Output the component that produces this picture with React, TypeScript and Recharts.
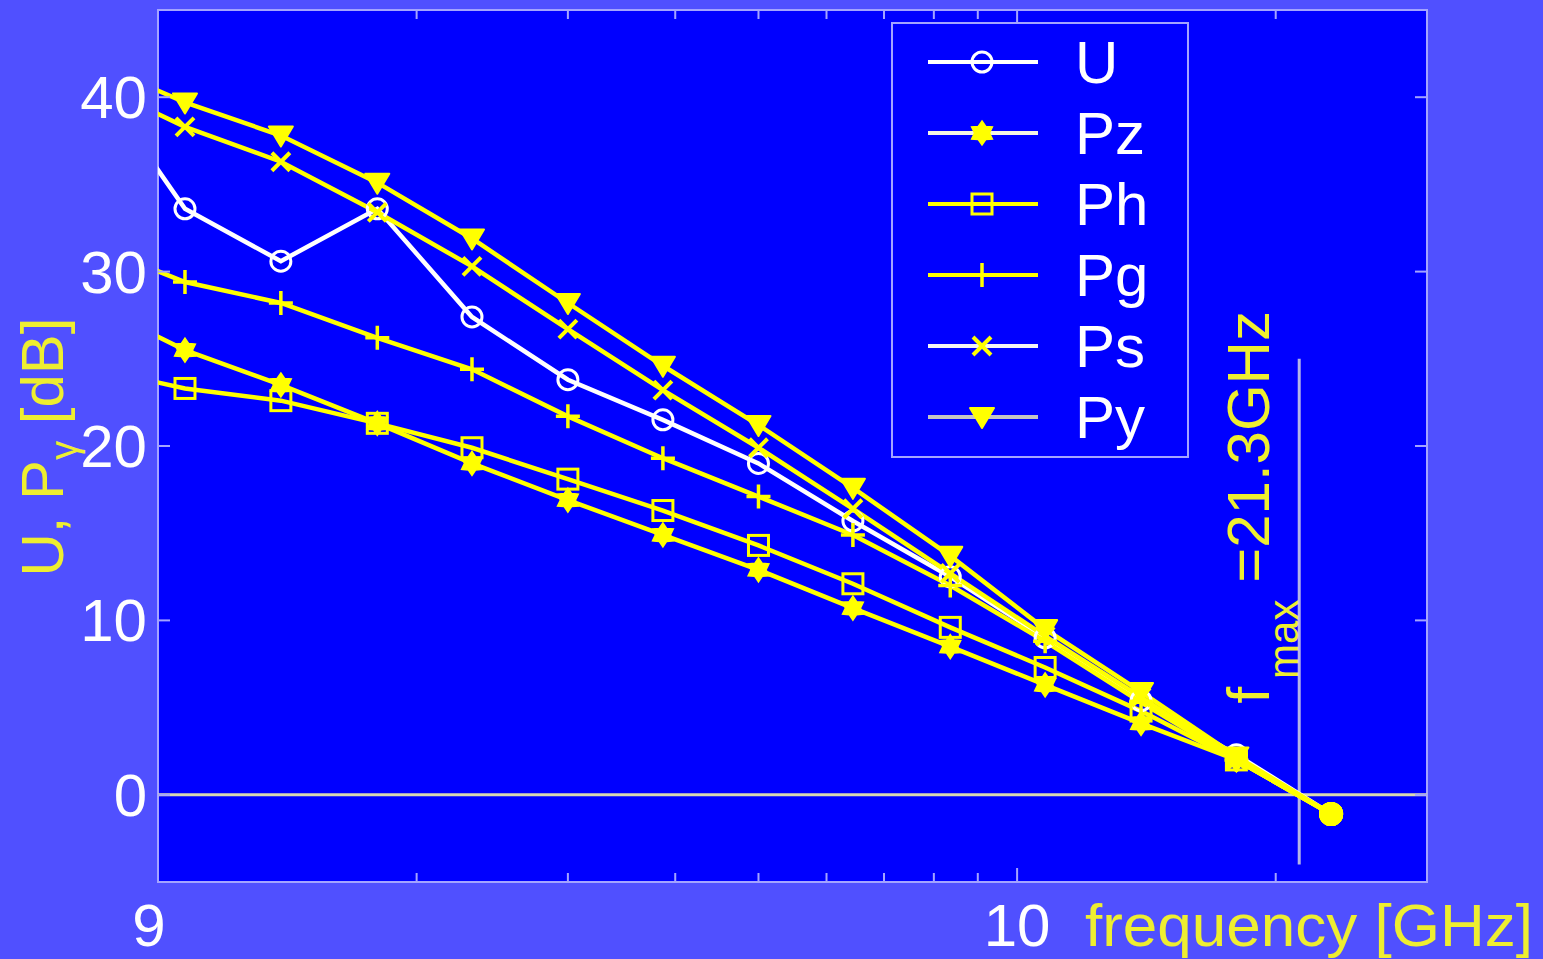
import React from 'react';
import { LineChart, Line, XAxis, YAxis, ReferenceLine, Legend } from 'recharts';

// ---------- data ----------
const frequencyHz = [0.832e9, 1.075e9, 1.39e9, 1.8e9, 2.32e9, 3.0e9, 3.87e9, 5.0e9, 6.44e9, 8.36e9, 10.78e9, 13.94e9, 18.0e9, 23.2e9];
const seriesU = [41.5, 33.6, 30.6, 33.6, 27.4, 23.8, 21.5, 19.0, 15.7, 12.5, 9.0, 5.4, 2.3, -1.1];
const seriesPz = [28.2, 25.5, 23.5, 21.3, 19.0, 16.9, 14.9, 12.9, 10.7, 8.5, 6.3, 4.1, 2.0, -1.1];
const seriesPh = [24.5, 23.3, 22.6, 21.3, 19.9, 18.1, 16.3, 14.3, 12.1, 9.6, 7.3, 4.8, 2.0, -1.1];
const seriesPg = [31.6, 29.4, 28.2, 26.2, 24.4, 21.7, 19.3, 17.1, 14.9, 12.0, 8.8, 5.3, 2.0, -1.1];
const seriesPs = [40.9, 38.3, 36.3, 33.4, 30.3, 26.7, 23.2, 19.9, 16.4, 12.7, 9.1, 5.6, 2.0, -1.1];
const seriesPy = [42.1, 39.7, 37.8, 35.1, 31.9, 28.2, 24.6, 21.2, 17.6, 13.7, 9.5, 5.9, 2.2, -1.1];

const xTicks = [1e9, 2e9, 3e9, 4e9, 5e9, 6e9, 7e9, 8e9, 9e9, 1e10, 2e10];
const xTickLabels = ['9', '', '', '', '', '', '', '', '', '10', ''];
const yTicks = [0, 10, 20, 30, 40];
const xDomain = [1e9, 3e10];
const yDomain = [-5, 45];
const fmaxHz = 21.3e9;
const fmaxSpan = [-4, 25];
const fmaxText = '=21.3GHz';
const xAxisTitle = 'frequency [GHz]';

const data = frequencyHz.map((f, i) => ({
  f,
  U: seriesU[i],
  Pz: seriesPz[i],
  Ph: seriesPh[i],
  Pg: seriesPg[i],
  Ps: seriesPs[i],
  Py: seriesPy[i],
}));

// ---------- style ----------
const W = 1543;
const H = 959;
const PLOT_L = 158;
const PLOT_T = 10;
const PLOT_R = 1427;
const PLOT_B = 882;
const PLOT_W = PLOT_R - PLOT_L;
const PLOT_H = PLOT_B - PLOT_T;
const YAXIS_W = 60;
const XAXIS_H = 60;

const PAGE_BG = '#5050FF';
const PLOT_BG = '#0000FF';
const FRAME = '#A4A4FF';
const YELLOW = '#FFFF00';
const TEXT_YELLOW = '#EEEE30';
const WHITE = '#FFFFFF';
const FONT = '"Liberation Sans", Arial, Helvetica, sans-serif';
const FS = 60;

type Series = { key: string; color: string; marker: string; legendLine: string; legendMarker: string };
const SERIES: Series[] = [
  { key: 'U', color: WHITE, marker: 'circle', legendLine: WHITE, legendMarker: WHITE },
  { key: 'Pz', color: YELLOW, marker: 'hexagram', legendLine: '#F4F4E4', legendMarker: YELLOW },
  { key: 'Ph', color: YELLOW, marker: 'square', legendLine: YELLOW, legendMarker: YELLOW },
  { key: 'Pg', color: YELLOW, marker: 'plus', legendLine: YELLOW, legendMarker: YELLOW },
  { key: 'Ps', color: YELLOW, marker: 'x', legendLine: '#F4F4F4', legendMarker: YELLOW },
  { key: 'Py', color: YELLOW, marker: 'triDown', legendLine: '#C4C4C4', legendMarker: YELLOW },
];

function markerShape(kind: string, cx: number, cy: number, color: string) {
  switch (kind) {
    case 'circle':
      return <circle cx={cx} cy={cy} r={10} fill="none" stroke={color} strokeWidth={3} />;
    case 'hexagram': {
      const pts: string[] = [];
      for (let i = 0; i < 12; i++) {
        const a = (Math.PI / 6) * i - Math.PI / 2;
        const r = i % 2 === 0 ? 12 : 7.5;
        pts.push(`${cx + r * Math.cos(a)},${cy + r * Math.sin(a)}`);
      }
      return <polygon points={pts.join(' ')} fill={color} stroke={color} strokeWidth={1.5} />;
    }
    case 'square':
      return <rect x={cx - 10} y={cy - 10} width={20} height={20} fill="none" stroke={color} strokeWidth={3} />;
    case 'plus':
      return (
        <path d={`M${cx - 12},${cy} H${cx + 12} M${cx},${cy - 12} V${cy + 12}`} stroke={color} strokeWidth={3.5} fill="none" />
      );
    case 'x':
      return (
        <path
          d={`M${cx - 9},${cy - 9} L${cx + 9},${cy + 9} M${cx + 9},${cy - 9} L${cx - 9},${cy + 9}`}
          stroke={color}
          strokeWidth={4}
          fill="none"
        />
      );
    case 'triDown':
      return (
        <polygon
          points={`${cx - 12},${cy - 9} ${cx + 12},${cy - 9} ${cx},${cy + 11}`}
          fill={color}
          stroke={color}
          strokeWidth={2}
          strokeLinejoin="round"
        />
      );
    default:
      return null;
  }
}

const makeDot = (s: Series) => (props: any) => {
  const { cx, cy, index, payload } = props;
  const k = `${s.key}-${index}`;
  if (cx == null || cy == null || payload.f < xDomain[0]) return <g key={k} />;
  if (index === data.length - 1) return <circle key={k} cx={cx} cy={cy} r={12} fill={YELLOW} />;
  return <g key={k}>{markerShape(s.marker, cx, cy, s.color)}</g>;
};

const XTick = (props: any) => {
  const { x, y, payload } = props;
  const idx = xTicks.indexOf(payload.value);
  const label = idx >= 0 ? xTickLabels[idx] : '';
  const len = label ? 14 : 9;
  return (
    <g>
      <line x1={x} x2={x} y1={y} y2={y - len} stroke={FRAME} strokeWidth={2} />
      <line x1={x} x2={x} y1={y - PLOT_H} y2={y - PLOT_H + len} stroke={FRAME} strokeWidth={2} />
      {label ? (
        <text x={x} dx={idx === 0 ? -9 : 0} y={y + 64} textAnchor="middle" fill={WHITE} fontSize={FS} fontFamily={FONT}>
          {label}
        </text>
      ) : null}
    </g>
  );
};

const YTick = (props: any) => {
  const { x, y, payload } = props;
  return (
    <g>
      <line x1={x} x2={x + 12} y1={y} y2={y} stroke={FRAME} strokeWidth={2} />
      <line x1={x + PLOT_W - 12} x2={x + PLOT_W} y1={y} y2={y} stroke={FRAME} strokeWidth={2} />
      <text x={x - 11} y={y} dy={21} textAnchor="end" fill={WHITE} fontSize={FS} fontFamily={FONT}>
        {payload.value}
      </text>
    </g>
  );
};

const XLabel = (props: any) => {
  const vb = props.viewBox || { x: PLOT_L, y: PLOT_B, width: PLOT_W, height: XAXIS_H };
  return (
    <text
      x={vb.x + vb.width + 106}
      y={vb.y + 64}
      textAnchor="end"
      textLength={448}
      lengthAdjust="spacingAndGlyphs"
      fill={TEXT_YELLOW}
      fontSize={FS}
      fontFamily={FONT}
    >
      {xAxisTitle}
    </text>
  );
};

const YLabel = (props: any) => {
  const vb = props.viewBox || { x: PLOT_L - YAXIS_W, y: PLOT_T, width: YAXIS_W, height: PLOT_H };
  const cx = vb.x - 35;
  const cy = vb.y + vb.height / 2 + 1;
  return (
    <text
      x={cx}
      y={cy}
      transform={`rotate(-90, ${cx}, ${cy})`}
      textAnchor="middle"
      fill={TEXT_YELLOW}
      fontSize={FS}
      fontFamily={FONT}
    >
      U, P
      <tspan fontSize={38} dy={14}>
        γ
      </tspan>
      <tspan dy={-14}> [dB]</tspan>
    </text>
  );
};

const FmaxLabel = (props: any) => {
  const vb = props.viewBox || { x: 1298, y: 355, width: 0, height: 511 };
  const tx = vb.x - 30;
  const ty = vb.y + vb.height - 161;
  return (
    <text x={tx} y={ty} transform={`rotate(-90, ${tx}, ${ty})`} fill={TEXT_YELLOW} fontSize={FS} fontFamily={FONT}>
      f
      <tspan fontSize={42} dy={29} dx={8}>
        max
      </tspan>
      <tspan dy={-29}> {fmaxText}</tspan>
    </text>
  );
};

const renderLegend = (props: any) => {
  const payload: any[] = props.payload || [];
  const order = SERIES.map((s) => s.key);
  const items = [...payload]
    .filter((p) => order.indexOf(p.dataKey) >= 0)
    .sort((a, b) => order.indexOf(a.dataKey) - order.indexOf(b.dataKey));
  return (
    <svg width={298} height={436} style={{ display: 'block' }}>
      <rect x={1} y={1} width={296} height={434} fill={PLOT_BG} stroke={FRAME} strokeWidth={2} />
      {items.map((it, i) => {
        const s = SERIES.find((q) => q.key === it.dataKey) as Series;
        const cy = 40 + i * 71;
        return (
          <g key={s.key}>
            <line x1={37} x2={147} y1={cy} y2={cy} stroke={s.legendLine} strokeWidth={4} />
            {markerShape(s.marker, 91, cy, s.legendMarker)}
            <text x={184} y={cy + 21} fill={WHITE} fontSize={FS} fontFamily={FONT}>
              {it.value}
            </text>
          </g>
        );
      })}
    </svg>
  );
};

export default function App() {
  return (
    <div style={{ position: 'absolute', left: 0, top: 0, width: W, height: H, background: PAGE_BG, overflow: 'hidden' }}>
      <div
        style={{
          position: 'absolute',
          left: PLOT_L - 1,
          top: PLOT_T - 1,
          width: PLOT_W + 2,
          height: PLOT_H + 2,
          boxSizing: 'border-box',
          border: `2px solid ${FRAME}`,
          background: PLOT_BG,
        }}
      />
      <LineChart
        width={W}
        height={H}
        data={data}
        margin={{ top: PLOT_T, right: W - PLOT_R, left: PLOT_L - YAXIS_W, bottom: H - PLOT_B - XAXIS_H }}
      >
        <XAxis
          dataKey="f"
          type="number"
          scale="log"
          domain={xDomain}
          allowDataOverflow
          ticks={xTicks}
          interval={0}
          height={XAXIS_H}
          tickSize={0}
          tickMargin={0}
          tickLine={false}
          axisLine={false}
          tick={(p: any) => <XTick {...p} />}
          label={<XLabel />}
        />
        <YAxis
          type="number"
          domain={yDomain}
          allowDataOverflow
          ticks={yTicks}
          interval={0}
          width={YAXIS_W}
          tickSize={0}
          tickMargin={0}
          tickLine={false}
          axisLine={false}
          tick={(p: any) => <YTick {...p} />}
          label={<YLabel />}
        />
        <ReferenceLine y={0} stroke="#D8D8B0" strokeWidth={3} ifOverflow="hidden" />
        <ReferenceLine
          segment={[
            { x: fmaxHz, y: fmaxSpan[0] },
            { x: fmaxHz, y: fmaxSpan[1] },
          ]}
          stroke="#B4B4E8"
          strokeWidth={3}
          label={<FmaxLabel />}
        />
        {SERIES.map((s) => (
          <Line
            key={s.key}
            dataKey={s.key}
            name={s.key}
            type="linear"
            stroke={s.color}
            strokeWidth={4.5}
            dot={makeDot(s)}
            activeDot={false}
            isAnimationActive={false}
          />
        ))}
        <Legend
          layout="vertical"
          align="center"
          verticalAlign="middle"
          content={renderLegend}
          wrapperStyle={{ left: 891, top: 22, width: 298, height: 436 }}
        />
      </LineChart>
    </div>
  );
}
